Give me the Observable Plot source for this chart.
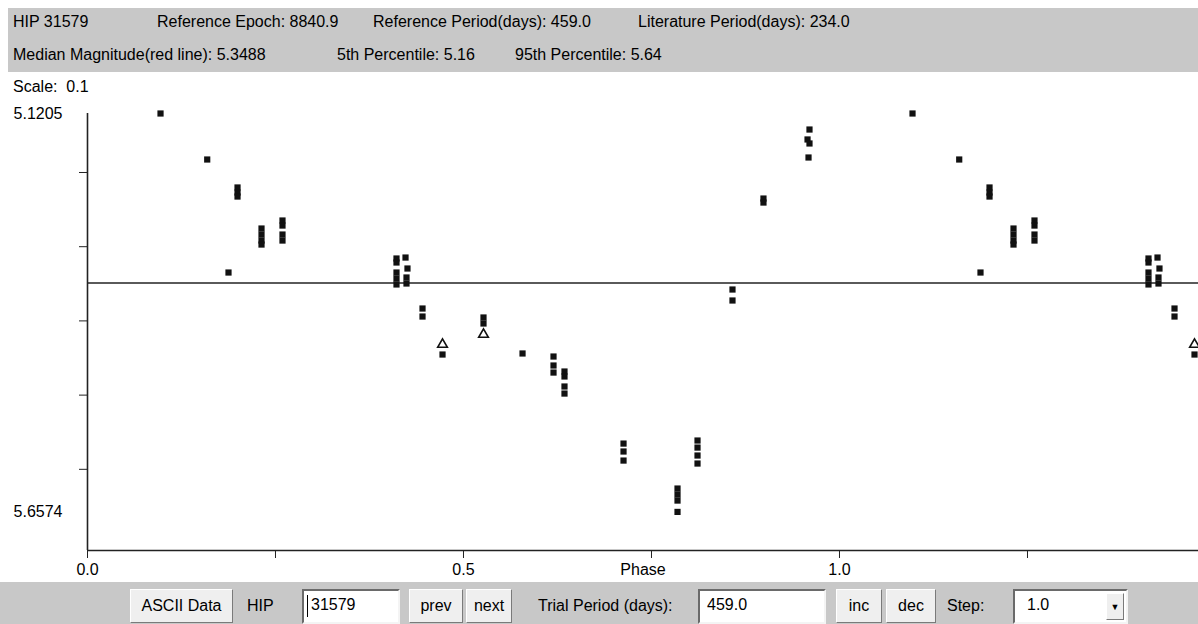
<!DOCTYPE html>
<html>
<head>
<meta charset="utf-8">
<script src="https://cdn.jsdelivr.net/npm/d3@7"></script>
<script src="https://cdn.jsdelivr.net/npm/@observablehq/plot@0.6"></script>
<style>
html, body { margin: 0; padding: 0; background: #fff; }
body { width: 1198px; height: 624px; overflow: hidden; position: relative;
  font-family: "Liberation Sans", Arial, sans-serif; font-size: 16px; color: #000; }
#chart { position: absolute; left: 0; top: 0; }
#head { position: absolute; left: 8px; top: 8px; width: 1190px; height: 64px; background: #c8c8c8; }
.t { position: absolute; white-space: nowrap; line-height: 18px; }
#scale { position: absolute; left: 13px; top: 78px; white-space: pre; line-height: 18px; }
#bar { position: absolute; left: 0; top: 582px; width: 1198px; height: 42px; background: #c8c8c8; }
.btn { position: absolute; top: 7px; height: 34px; background: #efefef; box-sizing: border-box;
  border: 1px solid; border-color: #ffffff #7a7a7a #7a7a7a #ffffff; text-align: center; line-height: 32px; }
.inp { position: absolute; top: 7px; height: 35px; background: #fff; box-sizing: border-box;
  border: 2px solid; border-color: #6a6a6a #f4f4f4 #f4f4f4 #6a6a6a; padding-left: 7px; line-height: 28px; }
.lab { position: absolute; top: 7px; line-height: 34px; white-space: nowrap; }
.caret { position: absolute; left: 3px; top: 4px; width: 1px; height: 22px; background: #000; }
#arrow { position: absolute; right: 2px; top: 2px; width: 18px; height: 27px; background: #efefef;
  border: 1px solid; border-color: #fff #7a7a7a #7a7a7a #fff; box-sizing: border-box; text-align: center;
  font-size: 9px; line-height: 26px; }
</style>
</head>
<body>
<div id="chart"></div>
<div id="head"></div>
<div id="scale"></div>
<div id="bar"></div>
<script>
// ---- header info ----
const headerRow1 = [
  {text: "HIP 31579", left: 5},
  {text: "Reference Epoch: 8840.9", left: 149},
  {text: "Reference Period(days): 459.0", left: 365},
  {text: "Literature Period(days): 234.0", left: 630}
];
const headerRow2 = [
  {text: "Median Magnitude(red line): 5.3488", left: 5},
  {text: "5th Percentile: 5.16", left: 329},
  {text: "95th Percentile: 5.64", left: 507}
];
const scaleText = "Scale:  0.1";

// ---- data (phase, magnitude), one folded cycle ----
const squarePhase = [
  0.0971,
  0.1592,
  0.1875,
  0.1995, 0.1995, 0.1995,
  0.2314, 0.2314, 0.2314, 0.2314,
  0.2593, 0.2593, 0.2593, 0.2593,
  0.4109, 0.4109, 0.4109, 0.4109, 0.4109,
  0.4229, 0.4255, 0.4242, 0.4242,
  0.4455, 0.4455,
  0.4721,
  0.5266, 0.5266,
  0.5785,
  0.6197, 0.6197, 0.6197,
  0.6343, 0.6343, 0.6343, 0.6343,
  0.7128, 0.7128, 0.7128,
  0.7846, 0.7846, 0.7846, 0.7846,
  0.8112, 0.8112, 0.8112, 0.8112,
  0.8577, 0.8577,
  0.8989, 0.8989,
  0.9601, 0.9575, 0.9601, 0.9588
];
const squareMag = [
  5.1205,
  5.1825,
  5.3348,
  5.2202, 5.2270, 5.2324,
  5.2755, 5.2836, 5.2917, 5.2971,
  5.2647, 5.2715, 5.2836, 5.2917,
  5.3159, 5.3213, 5.3348, 5.3429, 5.3509,
  5.3146, 5.3294, 5.3415, 5.3496,
  5.3833, 5.3941,
  5.4453,
  5.3954, 5.4035,
  5.4439,
  5.4480, 5.4601, 5.4696,
  5.4682, 5.4749, 5.4884, 5.4979,
  5.5653, 5.5760, 5.5882,
  5.6259, 5.6340, 5.6421, 5.6574,
  5.5612, 5.5707, 5.5814, 5.5922,
  5.3577, 5.3725,
  5.2351, 5.2405,
  5.1421, 5.1555, 5.1609, 5.1798
];
const trianglePhase = [0.4721, 0.5266];
const triangleMag = [5.4318, 5.4183];

const medianMag = 5.3488;
const magTop = 5.1205;     // brightest (top label)
const magBottom = 5.6574;  // faintest (bottom label)
const magTicks = [5.2, 5.3, 5.4, 5.5, 5.6];
const phaseTicks = [0, 0.25, 0.5, 0.75, 1.0, 1.25];
const phaseLabels = [0, 0.5, 1.0];

// ---- scale settings ----
const yDomain = [5.1205, 5.7094];
const xDomain = [0, 1.4774];

// fold: each observation appears at phase and phase + 1
const cycles = [0, 1];
const squares = cycles.flatMap(c => squarePhase.map((p, i) => ({phase: p + c, mag: squareMag[i]})));
const triangles = cycles.flatMap(c => trianglePhase.map((p, i) => ({phase: p + c, mag: triangleMag[i]})));

// ---- header html ----
const head = document.getElementById("head");
for (const r of headerRow1) {
  const d = document.createElement("div"); d.className = "t"; d.textContent = r.text;
  d.style.left = r.left + "px"; d.style.top = "5px"; head.appendChild(d);
}
for (const r of headerRow2) {
  const d = document.createElement("div"); d.className = "t"; d.textContent = r.text;
  d.style.left = r.left + "px"; d.style.top = "38px"; head.appendChild(d);
}
document.getElementById("scale").textContent = scaleText;

// ---- chart ----
const chart = Plot.plot({
  width: 1198,
  height: 582,
  marginTop: 113,
  marginBottom: 32,
  marginLeft: 87,
  marginRight: 0,
  style: {background: "transparent", fontFamily: "'Liberation Sans', Arial, sans-serif", fontSize: "16px", color: "#000", overflow: "visible"},
  x: {domain: xDomain},
  y: {domain: yDomain, reverse: true},
  marks: [
    Plot.ruleY([medianMag], {stroke: "#5a5a5a", strokeWidth: 2}),
    Plot.dot(squares, {x: "phase", y: "mag", symbol: "square", r: 3.5, fill: "#111"}),
    Plot.dot(triangles, {x: "phase", y: "mag", symbol: "triangle", r: 3.6, fill: "#fff", stroke: "#111", strokeWidth: 1.6}),
    Plot.ruleX([0], {stroke: "#222", strokeWidth: 1.6}),
    Plot.ruleY([yDomain[1]], {stroke: "#222", strokeWidth: 1.6}),
    Plot.axisX({ticks: phaseTicks, tickSize: 8, tickPadding: 5, fontSize: 16, label: null,
      tickFormat: d => phaseLabels.includes(d) ? d.toFixed(1) : "", stroke: "#222"}),
    Plot.text(["Phase"], {frameAnchor: "bottom", lineAnchor: "top", dy: 13, fontSize: 16}),
    Plot.axisY({ticks: magTicks, tickSize: 8, label: null, tickFormat: () => "", stroke: "#222"}),
    Plot.axisY({ticks: [magTop, magBottom], tickSize: 0, tickPadding: 25, fontSize: 16, label: null,
      tickFormat: d => d.toFixed(4)})
  ]
});
document.getElementById("chart").appendChild(chart);

// ---- bottom control bar ----
const bar = document.getElementById("bar");
const controls = [
  {cls: "btn", text: "ASCII Data", left: 130, width: 103},
  {cls: "lab", text: "HIP", left: 247},
  {cls: "inp", text: "31579", left: 302, width: 98, caret: true},
  {cls: "btn", text: "prev", left: 409, width: 54},
  {cls: "btn", text: "next", left: 466, width: 46},
  {cls: "lab", text: "Trial Period (days):", left: 538},
  {cls: "inp", text: "459.0", left: 698, width: 128},
  {cls: "btn", text: "inc", left: 836, width: 46},
  {cls: "btn", text: "dec", left: 886, width: 50},
  {cls: "lab", text: "Step:", left: 947},
  {cls: "inp", text: "1.0", left: 1013, width: 115, id: "sel"}
];
for (const c of controls) {
  const d = document.createElement("div");
  d.className = c.cls; d.textContent = c.text;
  d.style.left = c.left + "px";
  if (c.width) d.style.width = c.width + "px";
  if (c.id) d.id = c.id;
  if (c.caret) { const k = document.createElement("div"); k.className = "caret"; d.appendChild(k); }
  bar.appendChild(d);
}
const sel = document.getElementById("sel");
sel.style.paddingLeft = "12px";
const arrow = document.createElement("div");
arrow.id = "arrow"; arrow.textContent = "▼";
sel.appendChild(arrow);
</script>
</body>
</html>
